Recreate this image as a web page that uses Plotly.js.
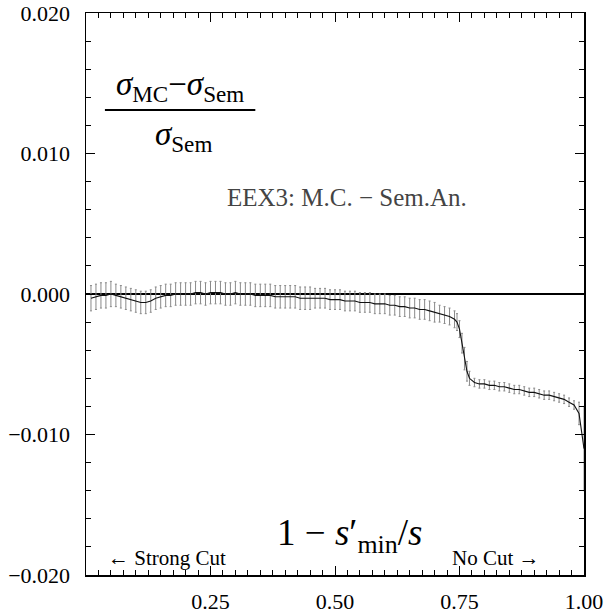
<!DOCTYPE html>
<html>
<head>
<meta charset="utf-8">
<script src="https://cdn.plot.ly/plotly-3.0.1.min.js"></script>
<style>
  html, body { margin: 0; padding: 0; background: #fff; }
  #chart { width: 607px; height: 614px; }
</style>
</head>
<body>
<div id="chart"></div>
<script>
// Cut variable 1 - s'min/s (bin centres)
const cutValues = [
  0.01, 0.02, 0.03, 0.04, 0.05, 0.06, 0.07, 0.08, 0.09, 0.10,
  0.11, 0.12, 0.13, 0.14, 0.15, 0.16, 0.17, 0.18, 0.19, 0.20,
  0.21, 0.22, 0.23, 0.24, 0.25, 0.26, 0.27, 0.28, 0.29, 0.30,
  0.31, 0.32, 0.33, 0.34, 0.35, 0.36, 0.37, 0.38, 0.39, 0.40,
  0.41, 0.42, 0.43, 0.44, 0.45, 0.46, 0.47, 0.48, 0.49, 0.50,
  0.51, 0.52, 0.53, 0.54, 0.55, 0.56, 0.57, 0.58, 0.59, 0.60,
  0.61, 0.62, 0.63, 0.64, 0.65, 0.66, 0.67, 0.68, 0.69, 0.70,
  0.71, 0.72, 0.73, 0.74, 0.745, 0.75, 0.755, 0.76, 0.765, 0.77,
  0.78, 0.79, 0.80, 0.81, 0.82, 0.83, 0.84, 0.85, 0.86, 0.87,
  0.88, 0.89, 0.90, 0.91, 0.92, 0.93, 0.94, 0.95, 0.96, 0.97,
  0.98, 0.99, 1.00
];

// Relative deviation (sigma_MC - sigma_Sem) / sigma_Sem
const relDiff = [
  -0.0003, -0.0002, -0.0001, -0.0001, 0.0000, -0.0001, -0.0002, -0.0003, -0.0004, -0.0005,
  -0.0006, -0.0006, -0.0005, -0.0003, -0.0002, -0.0001, -0.0001, 0.0000, 0.0000, 0.0000,
  0.0000, 0.0001, 0.0001, 0.0000, 0.0001, 0.0001, 0.0001, 0.0000, 0.0000, 0.0001,
  0.0000, 0.0000, 0.0000, -0.0001, -0.0001, -0.0001, -0.0001, -0.0002, -0.0002, -0.0002,
  -0.0002, -0.0002, -0.0003, -0.0003, -0.0003, -0.0003, -0.0003, -0.0003, -0.0004, -0.0004,
  -0.0004, -0.0005, -0.0005, -0.0005, -0.0006, -0.0006, -0.0006, -0.0007, -0.0007, -0.0007,
  -0.0008, -0.0008, -0.0009, -0.0009, -0.0010, -0.0010, -0.0011, -0.0011, -0.0012, -0.0013,
  -0.0014, -0.0015, -0.0016, -0.0018, -0.0020, -0.0025, -0.0035, -0.0046, -0.0055, -0.0060,
  -0.0063, -0.0064, -0.0064, -0.0065, -0.0065, -0.0066, -0.0066, -0.0067, -0.0068, -0.0068,
  -0.0069, -0.0070, -0.0070, -0.0071, -0.0072, -0.0072, -0.0073, -0.0074, -0.0075, -0.0077,
  -0.0079, -0.0085, -0.0110
];

// Statistical uncertainty of each bin
const relErr = [
  0.0009, 0.0009, 0.0009, 0.0009, 0.0009, 0.0008, 0.0008, 0.0008, 0.0008, 0.0008,
  0.0008, 0.0008, 0.0008, 0.0008, 0.0008, 0.0008, 0.0008, 0.0008, 0.0008, 0.0008,
  0.0008, 0.0008, 0.0008, 0.0008, 0.0008, 0.0008, 0.0008, 0.0008, 0.0008, 0.0008,
  0.0008, 0.0008, 0.0008, 0.0008, 0.0008, 0.0008, 0.0008, 0.0008, 0.0008, 0.0008,
  0.0008, 0.0008, 0.0008, 0.0008, 0.0008, 0.0007, 0.0007, 0.0007, 0.0007, 0.0007,
  0.0007, 0.0007, 0.0007, 0.0007, 0.0007, 0.0007, 0.0007, 0.0007, 0.0007, 0.0007,
  0.0007, 0.0007, 0.0007, 0.0007, 0.0007, 0.0007, 0.0007, 0.0007, 0.0007, 0.0007,
  0.0006, 0.0006, 0.0006, 0.0006, 0.0006, 0.0006, 0.0007, 0.0008, 0.0007, 0.0005,
  0.0003, 0.0003, 0.0003, 0.0003, 0.0003, 0.0003, 0.0003, 0.0003, 0.0003, 0.0003,
  0.0003, 0.0003, 0.0003, 0.0003, 0.0003, 0.0003, 0.0003, 0.0003, 0.0003, 0.0003,
  0.0003, 0.0008, 0.0030
];

const xTickVals = [0.25, 0.50, 0.75, 1.00];
const xTickText = ['0.25', '0.50', '0.75', '1.00'];

const serif = "'Liberation Serif', 'DejaVu Serif', serif";

const trace = {
  x: cutValues,
  y: relDiff,
  type: 'scatter',
  mode: 'lines',
  line: { color: '#111', width: 1.1 },
  error_y: {
    type: 'data',
    array: relErr,
    visible: true,
    color: '#8a8a8a',
    thickness: 1,
    width: 1
  },
  hoverinfo: 'x+y'
};

const axisCommon = {
  showline: true,
  linecolor: '#000',
  linewidth: 1.5,
  mirror: 'allticks',
  ticks: 'inside',
  ticklen: 9,
  tickwidth: 1,
  tickcolor: '#000',
  showgrid: false,
  tickfont: { family: serif, size: 22, color: '#000' }
};

const layout = {
  width: 607,
  height: 614,
  margin: { l: 86, r: 23, t: 13, b: 39 },
  paper_bgcolor: '#fff',
  plot_bgcolor: '#fff',
  showlegend: false,
  font: { family: serif, color: '#000' },
  xaxis: Object.assign({}, axisCommon, {
    range: [0, 1],
    tickmode: 'array',
    tickvals: xTickVals,
    ticktext: xTickText,
    ticklabelstandoff: 6,
    zeroline: false,
    minor: { dtick: 0.025, tick0: 0, ticks: 'inside', ticklen: 5, tickcolor: '#000', showgrid: false }
  }),
  yaxis: Object.assign({}, axisCommon, {
    range: [-0.02, 0.02],
    dtick: 0.01,
    tick0: 0,
    tickformat: '.3f',
    ticklabelstandoff: 10,
    zeroline: true,
    zerolinecolor: '#000',
    zerolinewidth: 1.5,
    minor: { dtick: 0.002, tick0: 0, ticks: 'inside', ticklen: 5, tickcolor: '#000', showgrid: false }
  }),
  shapes: [
    // fraction bar of the y-quantity label
    { type: 'line', xref: 'x', yref: 'y', x0: 0.038, x1: 0.34, y0: 0.0131, y1: 0.0131,
      line: { color: '#000', width: 2 } }
  ],
  annotations: [
    { xref: 'x', yref: 'y', x: 0.189, y: 0.0148, showarrow: false,
      text: '<i>σ</i><sub>MC</sub>−<i>σ</i><sub>Sem</sub>',
      font: { family: serif, size: 33, color: '#000' } },
    { xref: 'x', yref: 'y', x: 0.195, y: 0.0112, showarrow: false,
      text: '<i>σ</i><sub>Sem</sub>',
      font: { family: serif, size: 33, color: '#000' } },
    { xref: 'x', yref: 'y', x: 0.525, y: 0.0069, showarrow: false,
      text: 'EEX3: M.C. − Sem.An.',
      font: { family: serif, size: 25, color: '#444' } },
    { xref: 'x', yref: 'y', x: 0.53, y: -0.0172, showarrow: false,
      text: '1 − <i>s</i>′<sub>min</sub>/<i>s</i>',
      font: { family: serif, size: 37, color: '#000' } },
    { xref: 'x', yref: 'y', x: 0.04, y: -0.0188, xanchor: 'left', showarrow: false,
      text: '← Strong Cut',
      font: { family: serif, size: 21, color: '#000' } },
    { xref: 'x', yref: 'y', x: 0.73, y: -0.0188, xanchor: 'left', showarrow: false,
      text: 'No Cut →',
      font: { family: serif, size: 21, color: '#000' } }
  ]
};

Plotly.newPlot('chart', [trace], layout, { staticPlot: true, displayModeBar: false });
</script>
</body>
</html>
